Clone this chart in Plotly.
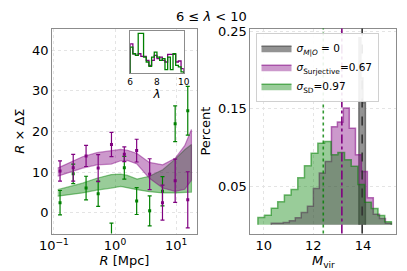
import plotly.graph_objects as go

# ---------------- data ----------------
# left panel: R x DeltaSigma profiles
R_pts = [0.126, 0.207, 0.336, 0.53, 0.875, 1.42, 2.26, 3.69, 5.98, 9.64, 15.5]
purple_vals = [10.3, 11.1, 14.0, 11.0, 16.8, 14.4, 15.3, 9.5, 2.5, 7.9, 3.2]
purple_errs = [2.5, 3.3, 2.6, 3.3, 3.0, 1.8, 2.8, 3.8, 4.3, 5.3, 6.9]
green_vals = [2.5, 9.6, 6.1, 4.7, -6.5, 11.1, 2.9, 0.5, 5.3, 21.9, 25.1]
green_errs = [3.0, 2.4, 2.9, 3.1, 4.0, 2.8, 3.3, 3.7, 3.6, 4.4, 6.0]

R_band = [0.1155, 0.1845, 0.294, 0.505, 0.866, 1.24, 1.596, 2.29, 3.65, 6.04, 9.64, 13.8, 17.8]
purple_upper = [11.0, 12.5, 13.8, 14.8, 15.2, 15.6, 15.4, 14.6, 12.4, 11.8, 13.4, 16.5, 20.5]
purple_lower = [9.0, 10.0, 11.0, 11.8, 12.0, 12.8, 12.9, 12.0, 8.5, 6.1, 5.3, 5.8, 8.0]
green_upper = [5.7, 6.5, 7.3, 8.5, 9.4, 9.5, 9.2, 8.3, 9.0, 10.6, 13.2, 15.5, 16.8]
green_lower = [4.1, 4.5, 4.9, 5.6, 6.1, 6.5, 6.2, 5.7, 5.2, 4.9, 4.9, 5.0, 5.1]

# inset: lambda distributions
lam_edges = [6.0, 6.2, 6.4, 6.6, 6.8, 7.0, 7.2, 7.4, 7.6, 7.8, 8.0,
             8.2, 8.4, 8.6, 8.8, 9.0, 9.2, 9.4, 9.6, 9.8, 10.0]
lam_green = [78, 58, 53, 120, 120, 48, 33, 20, 48, 63, 48, 38, 43, 10, 48, 10, 58, 23, 18, 3]
lam_purple = [88, 58, 53, 58, 50, 50, 38, 23, 38, 53, 43, 48, 38, 33, 56, 56, 56, 33, 36, 13]

# right panel: M_vir histograms
gray_edges = [13.84, 13.92, 14.00, 14.10]
gray_heights = [0.242, 0.19, 0.158]
purple_edges = [10.30, 10.54, 10.78, 11.03, 11.27, 11.51, 11.76, 12.00, 12.24, 12.48, 12.73,
                12.97, 13.21, 13.45, 13.70, 13.94, 14.18, 14.42, 14.67, 14.91, 15.15]
purple_heights = [0.002, 0.002, 0.003, 0.005, 0.009, 0.016, 0.024, 0.047, 0.067, 0.082,
                  0.127, 0.133, 0.151, 0.125, 0.0906, 0.069, 0.035, 0.0137, 0.008, 0.002]
green_edges = [9.76, 10.03, 10.30, 10.56, 10.83, 11.10, 11.37, 11.64, 11.91, 12.18, 12.45,
               12.72, 12.99, 13.26, 13.53, 13.80, 14.07, 14.34, 14.61, 14.88, 15.15]
green_heights = [0.0094, 0.0124, 0.0214, 0.0299, 0.0385, 0.0457, 0.0607, 0.0765, 0.0927, 0.1055,
                 0.1077, 0.0906, 0.0936, 0.084, 0.0756, 0.052, 0.029, 0.021, 0.012, 0.004]

median_sd = 12.4
median_surj = 13.15
median_true = 13.97

legend_labels = ["<i>σ</i><sub><i>M|O</i></sub> = 0",
                 "<i>σ</i><sub>Surjective</sub>=0.67",
                 "<i>σ</i><sub>SD</sub>=0.97"]

# ---------------- helpers ----------------
def step_xy(edges, heights):
    xs = [edges[0]] + list(edges[:-1]) + [edges[-1]]
    ys = [0] + list(heights) + [0]
    return xs, ys

PURPLE = "#800080"
GREEN = "#008000"
FONT = "DejaVu Sans"

fig = go.Figure()

# ---- left panel bands (green first, purple on top) ----
fig.add_trace(go.Scatter(
    x=R_band + R_band[::-1], y=green_upper + green_lower[::-1],
    fill="toself", fillcolor="rgba(0,128,0,0.4)", mode="lines",
    line=dict(color="rgba(0,128,0,0.45)", width=1.2),
    xaxis="x", yaxis="y", showlegend=False, hoverinfo="skip"))
fig.add_trace(go.Scatter(
    x=R_band + R_band[::-1], y=purple_upper + purple_lower[::-1],
    fill="toself", fillcolor="rgba(128,0,128,0.4)", mode="lines",
    line=dict(color="rgba(128,0,128,0.45)", width=1.2),
    xaxis="x", yaxis="y", showlegend=False, hoverinfo="skip"))

# ---- left panel error bars ----
for vals, errs, col in [(green_vals, green_errs, GREEN), (purple_vals, purple_errs, PURPLE)]:
    fig.add_trace(go.Scatter(
        x=R_pts, y=vals, mode="markers",
        marker=dict(color=col, size=3, symbol="square"),
        error_y=dict(type="data", array=errs, color=col, thickness=1.2, width=2),
        xaxis="x", yaxis="y", showlegend=False))

# ---- inset ----
for heights, col in [(lam_purple, PURPLE), (lam_green, GREEN)]:
    xs, ys = step_xy(lam_edges, heights)
    fig.add_trace(go.Scatter(
        x=xs, y=ys, mode="lines", line=dict(color=col, width=1.3, shape="hv"),
        xaxis="x3", yaxis="y3", showlegend=False, hoverinfo="skip"))

# ---- right panel histograms ----
hist_specs = [
    (gray_edges, gray_heights, "rgba(128,128,128,0.85)", "rgba(100,100,100,0.9)", legend_labels[0]),
    (purple_edges, purple_heights, "rgba(128,0,128,0.4)", "rgba(128,0,128,0.55)", legend_labels[1]),
    (green_edges, green_heights, "rgba(0,128,0,0.4)", "rgba(0,128,0,0.55)", legend_labels[2]),
]
for edges, heights, fc, lc, name in hist_specs:
    xs, ys = step_xy(edges, heights)
    fig.add_trace(go.Scatter(
        x=xs, y=ys, mode="lines", fill="toself", fillcolor=fc,
        line=dict(color=lc, width=1.5, shape="hv"),
        xaxis="x2", yaxis="y2", name=name, showlegend=True))

# vertical median lines
for xv, col, dash in [(median_sd, "rgba(0,128,0,0.8)", "dot"), (median_surj, PURPLE, "dashdot"),
                      (median_true, "#333333", "dash")]:
    fig.add_shape(type="line", xref="x2", yref="y2 domain", x0=xv, x1=xv, y0=0, y1=1,
                  line=dict(color=col, width=1.6, dash=dash))

# ---------------- layout ----------------
axis_common = dict(showline=True, linecolor="#8c8c8c", linewidth=1, mirror=True,
                   ticks="", showgrid=True, gridcolor="#e4e4e4", griddash="dot",
                   gridwidth=1, zeroline=False,
                   tickfont=dict(family=FONT, size=13, color="black"))

fig.update_layout(
    width=407, height=271,
    margin=dict(l=0, r=0, t=0, b=0),
    paper_bgcolor="white", plot_bgcolor="white",
    font=dict(family=FONT, color="black"),
    showlegend=True,
    legend=dict(x=0.625, y=0.892, xanchor="left", yanchor="top",
                bgcolor="rgba(255,255,255,0.9)", bordercolor="#d0d0d0", borderwidth=1,
                font=dict(family=FONT, size=10.5), tracegroupgap=0,
                itemwidth=30),
    xaxis=dict(axis_common, type="log", domain=[0.1007, 0.474], range=[-1.03, 1.34],
               tickvals=[0.1, 1, 10],
               ticktext=["10<sup>−1</sup>", "10<sup>0</sup>", "10<sup>1</sup>"],
               title=dict(text="<i>R</i> [Mpc]", font=dict(family=FONT, size=13), standoff=2),
               anchor="y"),
    yaxis=dict(axis_common, domain=[0.140, 0.908], range=[-5.1, 45.3],
               tickvals=[0, 10, 20, 30, 40],
               title=dict(text="<i>R</i> × ΔΣ", font=dict(family=FONT, size=13), standoff=4),
               anchor="x"),
    xaxis2=dict(axis_common, domain=[0.612, 0.988], range=[9.46, 15.35],
                tickvals=[10, 12, 14],
                title=dict(text="<i>M</i><sub>vir</sub>", font=dict(family=FONT, size=13), standoff=2),
                anchor="y2"),
    yaxis2=dict(axis_common, domain=[0.140, 0.908], range=[-0.0115, 0.254],
                tickvals=[0.05, 0.15, 0.25], ticktext=["0.05", "0.15", "0.25"],
                title=dict(text="Percent", font=dict(family=FONT, size=13), standoff=4),
                anchor="x2"),
    xaxis3=dict(showline=True, linecolor="#8c8c8c", linewidth=1, mirror=True,
                domain=[0.302, 0.440], range=[6, 10], tickvals=[6, 8, 10],
                ticks="", showgrid=False, zeroline=False,
                tickfont=dict(family=FONT, size=9, color="black"),
                title=dict(text="<i>λ</i>", font=dict(family=FONT, size=12), standoff=0),
                anchor="y3"),
    yaxis3=dict(showline=True, linecolor="#8c8c8c", linewidth=1, mirror=True,
                domain=[0.742, 0.900], range=[0, 128], showticklabels=False,
                ticks="", showgrid=False, zeroline=False, anchor="x3"),
    annotations=[dict(text="6 ≤ <i>λ</i> < 10", x=0.511, y=0.954, xref="paper", yref="paper",
                      showarrow=False, font=dict(family=FONT, size=13), xanchor="center",
                      yanchor="middle")],
)

fig.write_html("out.html", config={"displayModeBar": False})

# remove default page margins so the figure sits at the window's top-left corner
with open("out.html", "r", encoding="utf-8") as f:
    html = f.read()
html = html.replace("<head>", "<head><style>html,body{margin:0;padding:0;overflow:hidden;}</style>", 1)
with open("out.html", "w", encoding="utf-8") as f:
    f.write(html)
